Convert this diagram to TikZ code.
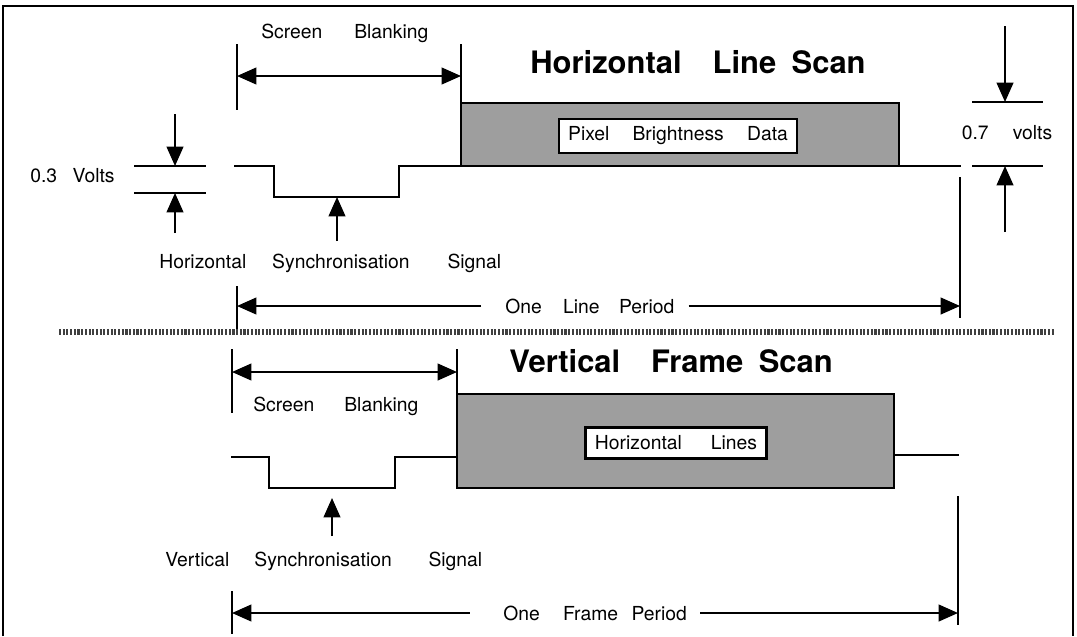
\documentclass[tikz,border=0pt]{standalone}
\usepackage{fontspec}
\setmainfont{TeX Gyre Heros}
\usetikzlibrary{arrows.meta, positioning}

\begin{document}
\begin{tikzpicture}[
    x=0.02cm, y=-0.02cm,
    lbl/.style={font=\fontsize{11}{13}\selectfont, inner sep=0pt},
    heading/.style={font=\fontsize{17.6}{20}\selectfont\bfseries, inner sep=0pt},
    sig/.style={line width=1.2pt, line join=miter},
    tick/.style={line width=1.2pt},
    dim/.style={line width=1.1pt, -{Triangle[length=11pt, width=9.5pt]}},
    ddim/.style={line width=1.1pt, {Triangle[length=11pt, width=9.5pt]}-{Triangle[length=11pt, width=9.5pt]}},
    databox/.style={draw, line width=1.2pt, fill=black!38},
    tagbox/.style={draw, line width=1.2pt, fill=white, lbl, align=center},
    divider/.style={line width=3pt, black!75, dash pattern=on 1.2pt off 0.9pt}
  ]
    \useasboundingbox (0,0) rectangle (1077,636);

    % Frame (open at the bottom)
    \draw[line width=0.8pt] (3,636) -- (3,6) -- (1073,6) -- (1073,636);

    % ---------- Horizontal line scan ----------
    \node[heading] (htitle) at (698,62) {Horizontal\hspace{1em}Line\hspace{0.5em}Scan};

    % screen blanking
    \coordinate (hbl) at (237,76);
    \coordinate (hbr) at (461,76);
    \draw[tick] (237,44) -- (237,110);
    \draw[tick] (461,44) -- (461,103);
    \draw[ddim] (hbl) -- (hbr);
    \node[lbl, anchor=west] (hblank) at (261,33) {Screen\hspace{1.65em}Blanking};

    % signal
    \draw[databox] (461,103) rectangle (899,166);
    \node[tagbox, minimum width=135pt, minimum height=19.4pt] (hpix) at (678,136)
      {Pixel\hspace{1.2em}Brightness\hspace{1.2em}Data};
    \draw[sig] (234,166) -- (274,166) -- (274,197) -- (399,197) -- (399,166) -- (461,166);
    \draw[sig] (899,166) -- (961,166);

    % 0.3 volts
    \draw[tick] (134,166) -- (206,166);
    \draw[tick] (134,193) -- (206,193);
    \coordinate (v3top) at (175,166);
    \coordinate (v3bot) at (175,193);
    \draw[dim] (175,114) -- (v3top);
    \draw[dim] (175,233) -- (v3bot);
    \node[lbl, anchor=west] (v3) at (30,176) {0.3\hspace{0.8em}Volts};

    % sync pulse
    \coordinate (hsync) at (337,197);
    \draw[dim] (337,241) -- (hsync);
    \node[lbl, anchor=west] (hsig) at (159,263)
      {Horizontal\hspace{1.34em}Synchronisation\hspace{1.96em}Signal};

    % 0.7 volts
    \draw[tick] (972,102) -- (1043,102);
    \draw[tick] (972,166) -- (1043,166);
    \coordinate (v7top) at (1005,102);
    \coordinate (v7bot) at (1005,166);
    \draw[dim] (1005,26) -- (v7top);
    \draw[dim] (1005,232) -- (v7bot);
    \node[lbl] (v7) at (1007,133) {0.7\hspace{1.25em}volts};

    % one line period
    \draw[tick] (237,286) -- (237,329);
    \draw[tick] (960,177) -- (960,318);
    \coordinate (hpl) at (237,306);
    \coordinate (hpr) at (960,306);
    \node[lbl, anchor=west] (hper) at (505,306) {One\hspace{1.1em}Line\hspace{1em}Period};
    \draw[dim] ([xshift=-13.6pt]hper.west) -- (hpl);
    \draw[dim] ([xshift=8pt]hper.east) -- (hpr);

    % divider
    \draw[divider] (59,332) -- (1054,332);

    % ---------- Vertical frame scan ----------
    \node[heading] (vtitle) at (671,361) {Vertical\hspace{1em}Frame\hspace{0.5em}Scan};

    % screen blanking
    \coordinate (vbl) at (232,372);
    \coordinate (vbr) at (457,372);
    \draw[tick] (232,349) -- (232,413);
    \draw[tick] (457,349) -- (457,394);
    \draw[ddim] (vbl) -- (vbr);
    \node[lbl, anchor=west] (vblank) at (253,406) {Screen\hspace{1.55em}Blanking};

    % signal
    \draw[databox] (457,394) rectangle (894,488);
    \node[tagbox, minimum width=103pt, minimum height=17.6pt] (vlines) at (676,443)
      {Horizontal\hspace{1.5em}Lines};
    \draw[sig] (231,457) -- (269,457) -- (269,488) -- (395,488) -- (395,457) -- (457,457);
    \draw[sig] (894,455) -- (959,455);

    % sync pulse
    \coordinate (vsync) at (332,498);
    \draw[dim] (332,536) -- (vsync);
    \node[lbl, anchor=west] (vsig) at (165,561)
      {Vertical\hspace{1.3em}Synchronisation\hspace{1.9em}Signal};

    % one frame period
    \draw[tick] (232,591) -- (232,634);
    \draw[tick] (958,496) -- (958,625);
    \coordinate (vpl) at (232,613);
    \coordinate (vpr) at (958,613);
    \node[lbl, anchor=west] (vper) at (503,613) {One\hspace{1.2em}Frame\hspace{0.7em}Period};
    \draw[dim] ([xshift=-19pt]vper.west) -- (vpl);
    \draw[dim] ([xshift=7.4pt]vper.east) -- (vpr);

  \end{tikzpicture}
\end{document}
